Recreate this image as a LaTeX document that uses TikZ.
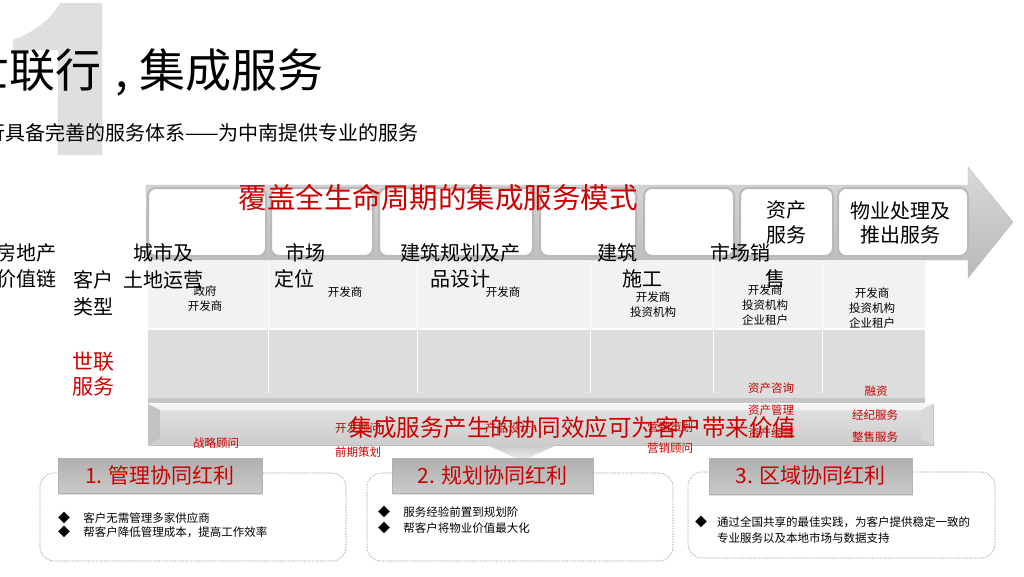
\documentclass[tikz,border=0pt]{standalone}
\usepackage{fontspec}
\setmainfont{Noto Sans CJK SC}
\usepackage{xcolor}
\usetikzlibrary{positioning, shadows}
\definecolor{sred}{HTML}{CC0000}

\begin{document}
\begin{tikzpicture}[
        x=1pt, y=-1pt,
        stage/.style={draw=gray!55, line width=2pt, fill=white, rounded corners=8pt, inner sep=0pt},
        steplab/.style={font=\fontsize{20}{26.5}\selectfont, align=center, inner sep=0pt},
        cust/.style={font=\fontsize{11.5}{15}\selectfont, align=center, inner sep=0pt},
        svc/.style={font=\fontsize{11.5}{14}\selectfont, text=sred, inner sep=0pt},
        card/.style={draw=gray!75, dash pattern=on 1.6pt off 1.1pt, line width=0.6pt, rounded corners=14pt, inner sep=0pt},
        cardhead/.style={top color=gray!62, bottom color=gray!42, draw=gray!60, inner sep=0pt,
            font=\fontsize{21}{24}\selectfont, text=sred,
            drop shadow={opacity=0.25, shadow xshift=1pt, shadow yshift=-2pt}},
        bullet/.style={font=\fontsize{11.5}{16}\selectfont, align=left, inner sep=0pt},
        dot/.style={font=\fontsize{12}{12}\selectfont, inner sep=0pt},
    ]
    \useasboundingbox (0,0) rectangle (1024,576);

    % === TITLE ===
    \fill[gray!25] (102,3) -- (102,155) -- (58,155) -- (58,50) -- (13,50) -- (13,40)
        .. controls (35,32) and (52,18) .. (60,3) -- cycle;
    \node[anchor=west, inner sep=0pt, font=\fontsize{46}{50}\selectfont] (title) at (-37,72) {世联行\hspace{14pt},\hspace{12pt}集成服务};
    \node[anchor=west, inner sep=0pt, font=\fontsize{20}{24}\selectfont] (subtitle) at (-55,133) {世联行具备完善的服务体系——为中南提供专业的服务};

    % === TABLE ===
    \fill[gray!10] (148,261) rectangle (925,328);
    \fill[gray!27] (148,330) rectangle (925,398);
    \fill[gray!45] (148,398) rectangle (925,403);
    \foreach \x in {268,417,590,713,822}
        \draw[white, line width=1pt] (\x,261) -- (\x,393);

    % === VALUE CHAIN ARROW ===
    \shade[top color=gray!30, bottom color=gray!55, draw=gray!55]
        (146,185) -- (968,185) -- (968,167) -- (1013,222) -- (968,278) -- (968,260) -- (146,260) -- cycle;
    \foreach \n/\l/\r in {1/148/266, 2/271/373, 3/379/533, 4/540/636, 5/644/734, 6/740/833, 7/838/968}
        \node[stage, minimum width={(\r-\l)*1pt}, minimum height=68pt] (s\n) at ({(\l+\r)/2},222) {};
    \node[steplab, font=\fontsize{20}{25}\selectfont] at (s6) {资产\\服务};
    \node[steplab, font=\fontsize{20}{24}\selectfont] at (900,223) {物业处理及\\推出服务};
    \node[inner sep=0pt, font=\fontsize{28.5}{30}\selectfont, text=sred] (mode) at (438,198) {覆盖全生命周期的集成服务模式};

    % Row labels
    \node[steplab] (chain) at (27,266) {房地产\\价值链};
    \node[steplab] (ctype) at (93,293.5) {客户\\类型};
    \node[steplab, text=sred, font=\fontsize{21}{25}\selectfont] (slsvc) at (93,374.5) {世联\\服务};

    % Stage labels
    \node[steplab] (l1) at (163,266.5) {城市及\\土地运营};
    \node[steplab] (l2) at (305,266) {市场\\定位\rule{22pt}{0pt}};
    \node[steplab] (l3) at (460,266) {建筑规划及产\\品设计};
    \node[steplab] (l4) at (617,266) {建筑\\\rule{50pt}{0pt}施工};
    \node[steplab] (l5) at (740,266) {市场销\\\rule{70pt}{0pt}售};

    % Customer types
    \node[cust] (c1) at (205,298.5) {政府\\开发商};
    \node[cust] (c2) at (345,292) {开发商};
    \node[cust] (c3) at (503,292) {开发商};
    \node[cust] (c4) at (653,304.5) {开发商\\投资机构};
    \node[cust] (c5) at (765,305) {开发商\\投资机构\\企业租户};
    \node[cust] (c6) at (872,308) {开发商\\投资机构\\企业租户};

    % === SYNERGY BAR ===
    \shade[top color=gray!22, bottom color=gray!40, draw=gray!50] (148,404) rectangle (933,445);
    \fill[gray!8] (148,404) -- (933,404) -- (921,410) -- (160,410) -- cycle;
    \fill[gray!48] (148,404) -- (160,410) -- (160,438) -- (148,445) -- cycle;
    \fill[gray!30] (933,404) -- (921,410) -- (921,438) -- (933,445) -- cycle;
    \shade[top color=gray!42, bottom color=gray!12] (487,445) -- (557,445) -- (522,461) -- cycle;

    % Services
    \foreach \n/\x/\y/\t in {v1/216/443/战略顾问, v2/358/428/开发顾问, v3/358/452/前期策划,
            v4/508/428/产品设计, v5/670/427/营销策划, v6/670/448/营销顾问,
            v7/771/388/资产咨询, v8/771/410/资产管理, v9/771/433/资产经营,
            v10/876/391/融资, v11/875/415/经纪服务, v12/875/437/整售服务}
        \node[svc] (\n) at (\x,\y) {\t};
    \node[inner sep=0pt, font=\fontsize{23.5}{26}\selectfont, text=sred] (synergy) at (573,428) {集成服务产生的协同效应可为客户带来价值};

    % === BENEFIT CARDS ===
    \node[card, minimum width=306pt, minimum height=88pt] (k1) at (193,517) {};
    \node[card, minimum width=306pt, minimum height=88pt] (k2) at (520,517) {};
    \node[card, minimum width=307pt, minimum height=86pt] (k3) at (841.5,515) {};
    \node[cardhead, minimum width=204pt, minimum height=35pt] (h1) at (160,475.5) {1. 管理协同红利};
    \node[cardhead, minimum width=201pt, minimum height=35pt] (h2) at (492.5,475.5) {2. 规划协同红利};
    \node[cardhead, minimum width=203pt, minimum height=36pt] (h3) at (810.5,476) {3. 区域协同红利};

    % Bullets
    \node[dot] (d11) at (64,518) {◆};
    \node[dot] (d12) at (64,532) {◆};
    \node[bullet, right=13pt of d11] (t11) {客户无需管理多家供应商};
    \node[bullet, right=13pt of d12] (t12) {帮客户降低管理成本，提高工作效率};
    \node[dot] (d21) at (384,512) {◆};
    \node[dot] (d22) at (384,528) {◆};
    \node[bullet, right=13pt of d21] (t21) {服务经验前置到规划阶};
    \node[bullet, right=13pt of d22] (t22) {帮客户将物业价值最大化};
    \node[dot] (d31) at (701,522) {◆};
    \node[bullet, anchor=west] (t31) at (717,530) {通过全国共享的最佳实践，为客户提供稳定一致的\\专业服务以及本地市场与数据支持};

\end{tikzpicture}
\end{document}
